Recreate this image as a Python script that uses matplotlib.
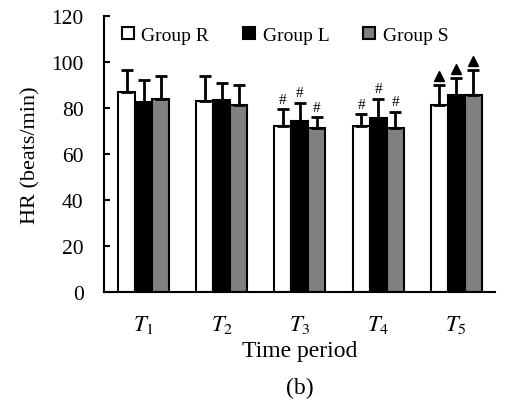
import numpy as np
import matplotlib
matplotlib.use('Agg')
import matplotlib.pyplot as plt

# Data
periods = ['$T_1$', '$T_2$', '$T_3$', '$T_4$', '$T_5$']
groups = ['Group R', 'Group L', 'Group S']
hr_mean = {
    'Group R': [87, 83, 72, 72, 81.3],
    'Group L': [82.5, 83.5, 74.3, 75.5, 85.4],
    'Group S': [84, 81.4, 71.4, 71.4, 85.4],
}
hr_sd = {
    'Group R': [9.4, 11, 7.3, 5.3, 8.7],
    'Group L': [9.8, 7.4, 7.9, 8.5, 7.5],
    'Group S': [10, 8.6, 4.6, 7, 11],
}
# significance markers per group and period ('#' or triangle)
marks = {
    'Group R': ['', '', '#', '#', 'tri'],
    'Group L': ['', '', '#', '#', 'tri'],
    'Group S': ['', '', '#', '#', 'tri'],
}
colors = {'Group R': 'white', 'Group L': 'black', 'Group S': '#808080'}

plt.rcParams['font.family'] = ['Liberation Serif', 'DejaVu Serif']
plt.rcParams['mathtext.fontset'] = 'stix'

fig = plt.figure(figsize=(5.16, 4.10), dpi=100)
ax = fig.add_axes([0.2025, 0.2854, 0.7575, 0.6736])

x = np.arange(len(periods))
width = 0.218

for i, g in enumerate(groups):
    pos = x + (i - 1) * width
    mean = np.array(hr_mean[g])
    sd = np.array(hr_sd[g])
    ax.bar(pos, mean, width, color=colors[g], edgecolor='black',
           linewidth=1.5, label=g, zorder=2)
    ax.errorbar(pos, mean, yerr=[np.zeros_like(sd), sd], fmt='none',
                ecolor='black', elinewidth=2, capsize=4.5, capthick=2,
                zorder=3)
    for p, m, s, mk in zip(pos, mean, sd, marks[g]):
        if mk == '#':
            ax.text(p, m + s + 1.5, '#', ha='center', va='bottom',
                    fontsize=11)
        elif mk == 'tri':
            ax.plot(p, m + s + 4, marker='^', color='black',
                    markersize=6.5, linestyle='none')

ax.set_xlim(-0.5, 4.5)
ax.set_ylim(0, 120)
ax.set_yticks(np.arange(0, 121, 20))
ax.set_xticks(x)
ax.set_xticklabels(periods, fontsize=16.5)
ax.tick_params(axis='y', direction='in', length=4, width=1.5,
               labelsize=15.5, pad=15)
ax.tick_params(axis='x', length=0, pad=15)
for side in ['top', 'right']:
    ax.spines[side].set_visible(False)
for side in ['left', 'bottom']:
    ax.spines[side].set_linewidth(1.5)

ax.set_ylabel('HR (beats/min)', fontsize=16, labelpad=8)
ax.set_xlabel('Time period', fontsize=17, labelpad=4)

ax.legend(ncol=3, frameon=False, fontsize=14, loc='upper left',
          bbox_to_anchor=(0.005, 1.017), handlelength=0.6, handleheight=0.6,
          handletextpad=0.4, columnspacing=1.75, borderpad=0.3)

fig.text(0.5 * (0.2025 + 0.96), 0.053, '(b)', ha='center', va='center',
         fontsize=17)

fig.savefig('out.png', dpi=100)
